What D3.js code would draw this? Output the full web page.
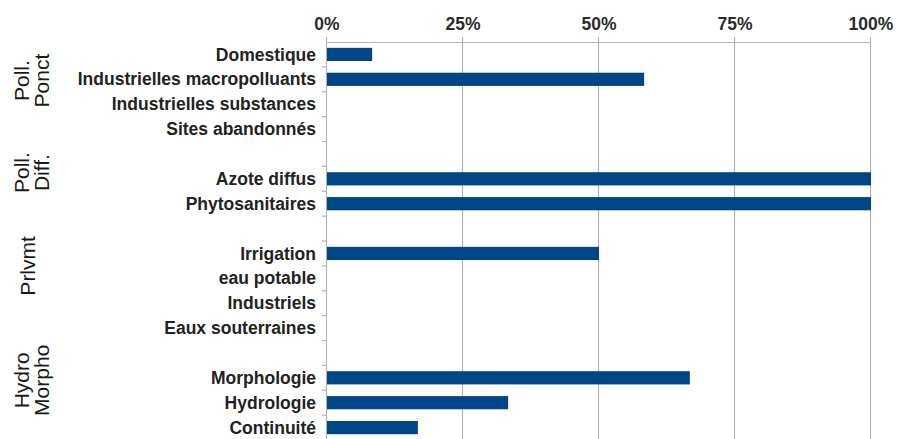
<!DOCTYPE html>
<html>
<head>
<meta charset="utf-8">
<script src="https://cdn.jsdelivr.net/npm/d3@7"></script>
<style>
  body { margin: 0; background: #fff; }
  svg { display: block; font-family: "Liberation Sans", Arial, sans-serif; }
</style>
</head>
<body>
<div id="chart"></div>
<script>
// categories, top to bottom ("" = empty spacer row)
const categories = [
    "Domestique", "Industrielles macropolluants", "Industrielles substances", "Sites abandonnés",
    "",
    "Azote diffus", "Phytosanitaires",
    "",
    "Irrigation", "eau potable", "Industriels", "Eaux souterraines",
    "",
    "Morphologie", "Hydrologie", "Continuité"
];

// share of the category (0..1)
const values = [
    0.083, 0.583, 0, 0,
    null,
    1, 1,
    null,
    0.5, 0, 0, 0,
    null,
    0.667, 0.333, 0.167
];

const tickValues = [0, 0.25, 0.5, 0.75, 1];

// group names (two lines each) and the row they sit beside
const groupLabels = [["Poll.", "Ponct"], ["Poll.", "Diff."], ["Prlvmt"], ["Hydro", "Morpho"]];
const groupRows = [1.05, 4.75, 8.5, 13.1];

const config = {
    width: 899,
    height: 439,
    margin: { top: 42, left: 326, right: 29 },
    plotBottom: 440
};

const svg = d3.select("#chart")
    .append("svg")
    .attr("width", config.width)
    .attr("height", config.height);

const data = categories.map((c, i) => ({ i: i, name: c, value: values[i] }));

// Scales
const x = d3.scaleLinear()
    .domain([0, 1])
    .range([config.margin.left, config.width - config.margin.right]);

const y = d3.scaleBand()
    .domain(data.map(d => d.i))
    .range([config.margin.top, config.plotBottom])
    .paddingInner(0.47)
    .paddingOuter(0.235);

const gridColor = "#b3b3b3";

// vertical gridlines
svg.append("g")
    .selectAll("line")
    .data(tickValues)
    .join("line")
    .attr("x1", d => x(d) + 0.5)
    .attr("x2", d => x(d) + 0.5)
    .attr("y1", config.margin.top - 5)
    .attr("y2", config.plotBottom)
    .attr("stroke", gridColor)
    .attr("stroke-width", 1.2);

// top axis line
svg.append("line")
    .attr("x1", x(0))
    .attr("x2", x(1) + 1)
    .attr("y1", config.margin.top + 0.5)
    .attr("y2", config.margin.top + 0.5)
    .attr("stroke", gridColor)
    .attr("stroke-width", 1.2);

// tick labels
svg.append("g")
    .selectAll("text")
    .data(tickValues)
    .join("text")
    .attr("x", d => x(d) + 1)
    .attr("y", 30)
    .attr("text-anchor", "middle")
    .attr("font-size", "17.5px")
    .attr("font-weight", "bold")
    .attr("fill", "#2b2b2b")
    .text(d3.format(".0%"));

// left axis ticks at row boundaries
const step = y.step();
svg.append("g")
    .selectAll("line")
    .data(d3.range(1, categories.length))
    .join("line")
    .attr("x1", x(0) - 4)
    .attr("x2", x(0))
    .attr("y1", k => config.margin.top + k * step)
    .attr("y2", k => config.margin.top + k * step)
    .attr("stroke", gridColor)
    .attr("stroke-width", 1.2);

// bars
svg.append("g")
    .selectAll("rect")
    .data(data.filter(d => d.value))
    .join("rect")
    .attr("x", x(0) + 1)
    .attr("y", d => y(d.i))
    .attr("width", d => x(d.value) - x(0))
    .attr("height", y.bandwidth())
    .attr("fill", "#004586");

// category labels
svg.append("g")
    .selectAll("text")
    .data(data)
    .join("text")
    .attr("x", x(0) - 10)
    .attr("y", d => y(d.i) + y.bandwidth() / 2)
    .attr("dy", "0.35em")
    .attr("text-anchor", "end")
    .attr("font-size", "17.5px")
    .attr("font-weight", "bold")
    .attr("fill", "#222")
    .text(d => d.name);

// group labels (rotated)
const groups = svg.append("g")
    .selectAll("text")
    .data(groupLabels)
    .join("text")
    .attr("transform", (d, i) => {
        const cy = config.margin.top + (groupRows[i] + 0.5) * step;
        const cx = d.length > 1 ? 32 : 28;
        return `translate(${cx},${cy}) rotate(-90)`;
    })
    .attr("text-anchor", "middle")
    .attr("font-size", "21px")
    .attr("fill", "#1a1a1a");

groups.selectAll("tspan")
    .data(d => d.map((t, j) => ({ t: t, j: j, n: d.length })))
    .join("tspan")
    .attr("x", 0)
    .attr("y", d => (d.j - (d.n - 1) / 2) * 20)
    .attr("dy", "0.35em")
    .text(d => d.t);
</script>
</body>
</html>
